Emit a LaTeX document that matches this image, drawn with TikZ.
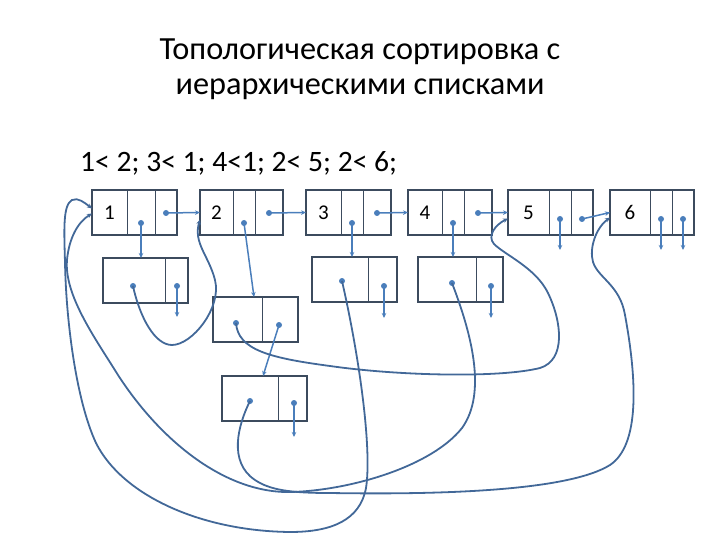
\documentclass[tikz,border=0pt]{standalone}
\usepackage{fontspec}
\setmainfont{Carlito}
\usetikzlibrary{positioning,arrows.meta}
\definecolor{boxline}{RGB}{60,75,94}
\definecolor{ptr}{RGB}{74,126,187}
\definecolor{curve}{RGB}{66,104,152}
\tikzset{
  cell/.style={draw=boxline,line width=0.8bp,minimum height=45bp,inner sep=0pt,outer sep=0pt,font=\fontsize{21bp}{25bp}\selectfont},
  frame/.style={draw=boxline,line width=1.8bp},
  ptrarrow/.style={draw=ptr,line width=1.5bp,-{Stealth[length=5bp,width=4.5bp]}},
  link/.style={draw=curve,line width=1.8bp,-{Stealth[length=5bp,width=4.5bp]}},
  pdot/.style={fill=ptr},
  title/.style={anchor=base,inner sep=0pt,font=\fontsize{32.3bp}{38bp}\selectfont}
}

\begin{document}
\begin{tikzpicture}[x=1bp,y=-1bp]
\useasboundingbox (0,0) rectangle (720,540);
% title
\node[title] (title1) at (360,60) {Топологическая сортировка с};
\node[title] (title2) at (360,95) {иерархическими списками};
\node[anchor=base west,inner sep=0pt,font=\fontsize{29.6bp}{34bp}\selectfont] (rel) at (80,172) {1< 2; 3< 1; 4<1; 2< 5; 2< 6;};
% head list
\node[cell,minimum width=35bp,anchor=north west] (t1a) at (92,190) {1};
\node[cell,minimum width=28bp,right=0pt of t1a] (t1b) {};
\node[cell,minimum width=22bp,right=0pt of t1b] (t1c) {};
\node[cell,minimum width=33bp,anchor=north west] (t2a) at (200,190) {2};
\node[cell,minimum width=22bp,right=0pt of t2a] (t2b) {};
\node[cell,minimum width=28bp,right=0pt of t2b] (t2c) {};
\node[cell,minimum width=35bp,anchor=north west] (t3a) at (306,190) {3};
\node[cell,minimum width=22bp,right=0pt of t3a] (t3b) {};
\node[cell,minimum width=28bp,right=0pt of t3b] (t3c) {};
\node[cell,minimum width=34bp,anchor=north west] (t4a) at (408,190) {4};
\node[cell,minimum width=22bp,right=0pt of t4a] (t4b) {};
\node[cell,minimum width=28bp,right=0pt of t4b] (t4c) {};
\node[cell,minimum width=41bp,anchor=north west] (t5a) at (508,190) {5};
\node[cell,minimum width=22bp,right=0pt of t5a] (t5b) {};
\node[cell,minimum width=22bp,right=0pt of t5b] (t5c) {};
\node[cell,minimum width=40bp,anchor=north west] (t6a) at (610,190) {6};
\node[cell,minimum width=22bp,right=0pt of t6a] (t6b) {};
\node[cell,minimum width=22bp,right=0pt of t6b] (t6c) {};
\draw[frame] (t1a.north west) rectangle (t1c.south east);
\draw[frame] (t2a.north west) rectangle (t2c.south east);
\draw[frame] (t3a.north west) rectangle (t3c.south east);
\draw[frame] (t4a.north west) rectangle (t4c.south east);
\draw[frame] (t5a.north west) rectangle (t5c.south east);
\draw[frame] (t6a.north west) rectangle (t6c.south east);
% successor lists
\node[cell,minimum width=62bp,anchor=north west] (b1a) at (103,258) {};
\node[cell,minimum width=23bp,right=0pt of b1a] (b1b) {};
\node[cell,minimum width=49bp,anchor=north west] (b2a) at (213,297) {};
\node[cell,minimum width=36bp,right=0pt of b2a] (b2b) {};
\node[cell,minimum width=56bp,anchor=north west] (c2a) at (222,376) {};
\node[cell,minimum width=29bp,right=0pt of c2a] (c2b) {};
\node[cell,minimum width=56bp,anchor=north west] (b3a) at (312,257) {};
\node[cell,minimum width=29bp,right=0pt of b3a] (b3b) {};
\node[cell,minimum width=58bp,anchor=north west] (b4a) at (418,257) {};
\node[cell,minimum width=27bp,right=0pt of b4a] (b4b) {};
\draw[frame] (b1a.north west) rectangle (b1b.south east);
\draw[frame] (b2a.north west) rectangle (b2b.south east);
\draw[frame] (c2a.north west) rectangle (c2b.south east);
\draw[frame] (b3a.north west) rectangle (b3b.south east);
\draw[frame] (b4a.north west) rectangle (b4b.south east);
% pointer dots
\coordinate (d1b) at (141,223); \coordinate (d1c) at (166,213);
\coordinate (d2b) at (244,223); \coordinate (d2c) at (269,213);
\coordinate (d3b) at (352,223); \coordinate (d3c) at (377,213);
\coordinate (d4b) at (453,223); \coordinate (d4c) at (478,213);
\coordinate (d5b) at (560,219); \coordinate (d5c) at (582,219);
\coordinate (d6b) at (661,219); \coordinate (d6c) at (683,219);
\coordinate (e1) at (133,286); \coordinate (n1) at (177,286);
\coordinate (e2) at (236,323); \coordinate (n2) at (279,325);
\coordinate (e2b) at (250,401); \coordinate (n2b) at (294,403);
\coordinate (e3) at (342,281); \coordinate (n3) at (384,286);
\coordinate (e4) at (452,283); \coordinate (n4) at (491,286);
% null ends
\coordinate (z1) at (177,317); \coordinate (z2) at (294,437);
\coordinate (z3) at (384,318); \coordinate (z4) at (491,318);
\coordinate (z5) at (560,250); \coordinate (z6b) at (661,250);
\coordinate (z6c) at (683,250);
\foreach \p in {d1b,d1c,d2b,d2c,d3b,d3c,d4b,d4c,d5b,d5c,d6b,d6c,e1,n1,e2,n2,e2b,n2b,e3,n3,e4,n4}
  \fill[pdot] (\p) circle (3bp);
% next pointers
\draw[ptrarrow] (d1c) -- (t2a.west);
\draw[ptrarrow] (d2c) -- (t3a.west);
\draw[ptrarrow] (d3c) -- (t4a.west);
\draw[ptrarrow] (d4c) -- (t5a.west);
\draw[ptrarrow] (d5c) -- (t6a.west);
\draw[ptrarrow] (d1b) -- (d1b |- b1a.north);
\draw[ptrarrow] (d2b) -- ([xshift=-8bp]b2a.north east);
\draw[ptrarrow] (n2) -- ([xshift=-15bp]c2a.north east);
\draw[ptrarrow] (d3b) -- (d3b |- b3a.north);
\draw[ptrarrow] (d4b) -- (d4b |- b4a.north);
\draw[ptrarrow] (n1) -- (z1);
\draw[ptrarrow] (n2b) -- (z2);
\draw[ptrarrow] (n3) -- (z3);
\draw[ptrarrow] (n4) -- (z4);
\draw[ptrarrow] (d5b) -- (z5);
\draw[ptrarrow] (d6b) -- (z6b);
\draw[ptrarrow] (d6c) -- (z6c);
% element links
\draw[link] (e1) .. controls (140,318) and (155,345) .. (172,345) .. controls (192,345) and (222,308) .. (215,280) .. controls (209,256) and (193,243) .. ([yshift=-7bp]t2a.west);
\draw[link] (e2) .. controls (238,350) and (270,358) .. (330,366) .. controls (400,376) and (500,378) .. (540,368) .. controls (566,360) and (562,322) .. (548,293) .. controls (536,268) and (505,255) .. (494,244) .. controls (487,236) and (495,225) .. ([yshift=-6bp]t5a.west);
\draw[link] (e2b) .. controls (238,425) and (228,462) .. (255,480) .. controls (270,490) and (290,493) .. (330,493) .. controls (450,495) and (570,490) .. (610,465) .. controls (640,445) and (637,380) .. (625,315) .. controls (620,285) and (598,278) .. (593,262) .. controls (589,248) and (596,228) .. ([yshift=-5bp]t6a.west);
\draw[link] (e3) .. controls (360,360) and (372,450) .. (366,488) .. controls (360,520) and (332,532) .. (290,532) .. controls (200,531) and (122,495) .. (96,443) .. controls (76,400) and (66,320) .. (65,262) .. controls (64,228) and (63,205) .. (72,200) .. controls (78,197) and (85,203) .. ([yshift=4bp]t1a.west);
\draw[link] (e4) .. controls (470,330) and (488,392) .. (462,428) .. controls (432,466) and (352,490) .. (292,492) .. controls (225,494) and (160,440) .. (118,375) .. controls (95,338) and (64,295) .. (67,260) .. controls (69,238) and (78,222) .. ([yshift=-1bp]t1a.west);
\end{tikzpicture}
\end{document}
